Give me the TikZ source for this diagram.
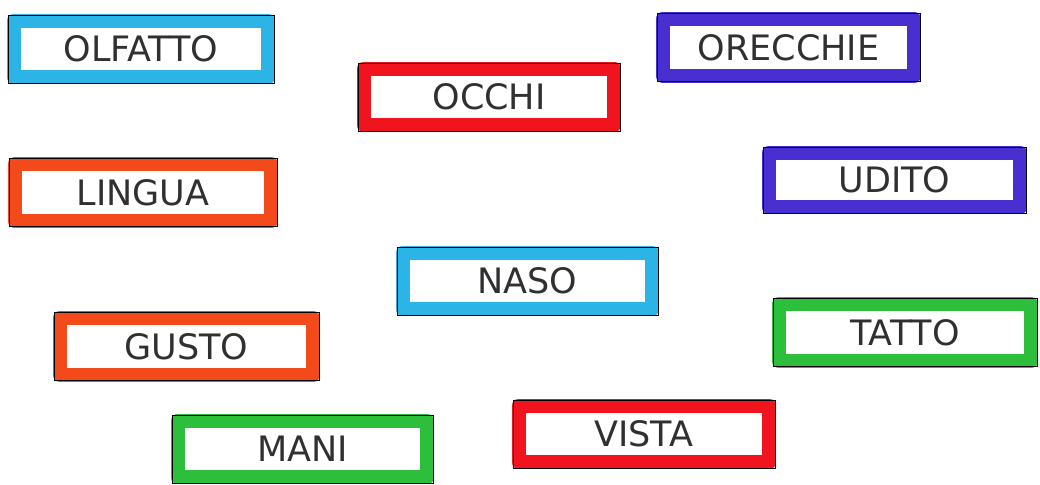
\documentclass[tikz,border=0pt]{standalone}
\usepackage{fontspec}
\setmainfont{DejaVu Sans}
\usetikzlibrary{backgrounds}
\definecolor{cyanM}{HTML}{2DB4E6}
\definecolor{redM}{HTML}{F0141E}
\definecolor{blueM}{HTML}{4A2FD0}
\definecolor{orangeM}{HTML}{F24A1A}
\definecolor{greenM}{HTML}{2DBE3C}
\definecolor{inkM}{HTML}{303030}
\tikzset{
  sense/.style={draw=black, line width=0.9pt, inner sep=0pt,
    minimum width=264pt, minimum height=68pt,
    font=\fontsize{35}{40}\selectfont, text=inkM},
  band/.style={draw=#1, line width=14pt, line join=round}
}
\begin{document}
\begin{tikzpicture}[x=1pt,y=-1pt]
\useasboundingbox (0,0) rectangle (1040,484);
\node[sense, minimum width=266pt] (olf) at (141,49) {OLFATTO};
\node[sense, minimum width=262pt] (occ) at (489,97) {OCCHI};
\node[sense, minimum width=263pt] (ore) at (788.5,47.5) {ORECCHIE};
\node[sense, minimum width=268pt] (lin) at (143,192.5) {LINGUA};
\node[sense, minimum width=263pt, minimum height=66pt] (udi) at (894.5,180) {UDITO};
\node[sense, minimum width=261pt] (nas) at (527.5,281) {NASO};
\node[sense, minimum width=265pt] (gus) at (186.5,346.5) {GUSTO};
\node[sense, minimum width=264pt] (tat) at (905,332.5) {TATTO};
\node[sense, minimum width=261pt] (man) at (302.5,449) {MANI};
\node[sense, minimum width=262pt] (vis) at (644,434) {VISTA};
\begin{scope}[on background layer]
\fill[white] (0,0) rectangle (1040,484);
\foreach \n/\c in {olf/cyanM, occ/redM, ore/blueM, lin/orangeM, udi/blueM,
                   nas/cyanM, gus/orangeM, tat/greenM, man/greenM, vis/redM}
  \draw[band=\c] ([shift={(6pt,-6pt)}]\n.north west) rectangle ([shift={(-6pt,6pt)}]\n.south east);
\end{scope}
\end{tikzpicture}
\end{document}
